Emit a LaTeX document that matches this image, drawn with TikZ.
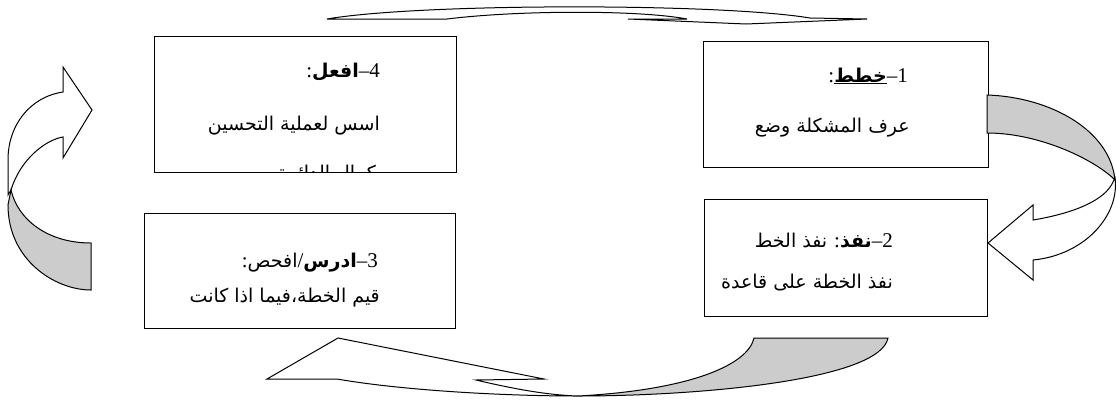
\documentclass[tikz,border=0pt]{standalone}
\usepackage{fontspec}
\setmainfont{Liberation Serif}
\newfontfamily\arabicfont[Script=Arabic]{DejaVu Sans}
\TeXXeTstate=1
\newcommand\AR[1]{{\arabicfont\fontsize{19}{22}\selectfont #1}}
\newcommand\NUM[1]{\beginL–#1\endL}
\definecolor{bandgray}{RGB}{204,204,204}
\tikzset{
  box/.style={draw=black, line width=1.4pt, fill=white, inner sep=0pt, anchor=north west},
  arr/.style={draw=black, line width=1pt, line join=miter},
  txt/.style={inner sep=0pt, anchor=base east, font=\fontsize{21}{25}\selectfont},
}
\begin{document}
\begin{tikzpicture}[x=1pt,y=-1pt]
\useasboundingbox (0,0) rectangle (1116,400);
% boxes
\node[box, minimum width=302pt, minimum height=136pt] (b4) at (154,36) {};
\node[box, minimum width=285pt, minimum height=126pt] (b1) at (703,41) {};
\node[box, minimum width=311pt, minimum height=115pt] (b3) at (144,213) {};
\node[box, minimum width=283pt, minimum height=117pt] (b2) at (704,199) {};
% texts box 4
\node[txt] (t4a) at (380,77) {\beginR\NUM{4}\AR{\bfseries افعل}:\endR};
\node[txt] (t4b) at (380,130) {\beginR\AR{اسس لعملية التحسين}\endR};
\begin{scope}
\clip (154,36) rectangle (455,171);
\node[txt] (t4c) at (376,179) {\beginR\AR{كمال الدائرة}\endR};
\end{scope}
% box 1
\node[txt] (t1a) at (908,82) {\beginR\NUM{1}\underline{\AR{\bfseries خطط}}:\endR};
\node[txt] (t1b) at (910,132) {\beginR\AR{عرف المشكلة وضع}\endR};
% box 3
\node[txt] (t3a) at (378,267) {\beginR\NUM{3}\AR{\bfseries ادرس}/\AR{افحص}:\endR};
\node[txt] (t3b) at (380,302) {\beginR\AR{قيم الخطة،فيما اذا كانت}\endR};
% box 2
\node[txt] (t2a) at (893,247) {\beginR\NUM{2}\AR{\bfseries نفذ}: \AR{نفذ الخط}\endR};
\node[txt] (t2b) at (893,288) {\beginR\AR{نفذ الخطة على قاعدة}\endR};
% top arrow
\path[arr, fill=white] (327,19) .. controls (420,3) and (720,3) .. (810,18) -- (867,19) -- (746,24) -- (628,19) -- (687,19) .. controls (640,10) and (520,10) .. (447,19) -- cycle;
% right arrow
\path[arr, fill=white] (1115,178) .. controls (1120,215) and (1085,255) .. (1033,260) -- (1033,280) -- (988,243) -- (1033,205) -- (1033,220) .. controls (1075,213) and (1105,200) .. (1113,182) -- cycle;
\path[arr, fill=bandgray] (987,95) .. controls (1050,97) and (1110,130) .. (1115,180) .. controls (1095,160) and (1040,133) .. (987,133) -- cycle;
% bottom arrow
\path[arr, fill=white] (578,396) .. controls (500,396) and (400,390) .. (337,379) -- (267,379) -- (338,338) -- (544,379) -- (476,380) .. controls (510,388) and (545,395) .. (578,396) -- cycle;
\path[arr, fill=bandgray] (578,396) .. controls (700,396) and (880,380) .. (888,338) -- (754,338) .. controls (748,365) and (690,390) .. (578,396) -- cycle;
% left arrow
\path[arr, fill=white] (8,195) -- (8,160) .. controls (8,125) and (30,97) .. (63,92) -- (63,67) -- (92,110) -- (63,158) -- (63,137) .. controls (45,140) and (20,160) .. (11,190) -- cycle;
\path[arr, fill=bandgray] (11,190) .. controls (18,220) and (48,243) .. (91,243) -- (91,290) .. controls (55,290) and (8,260) .. (8,205) -- cycle;
\end{tikzpicture}
\end{document}
